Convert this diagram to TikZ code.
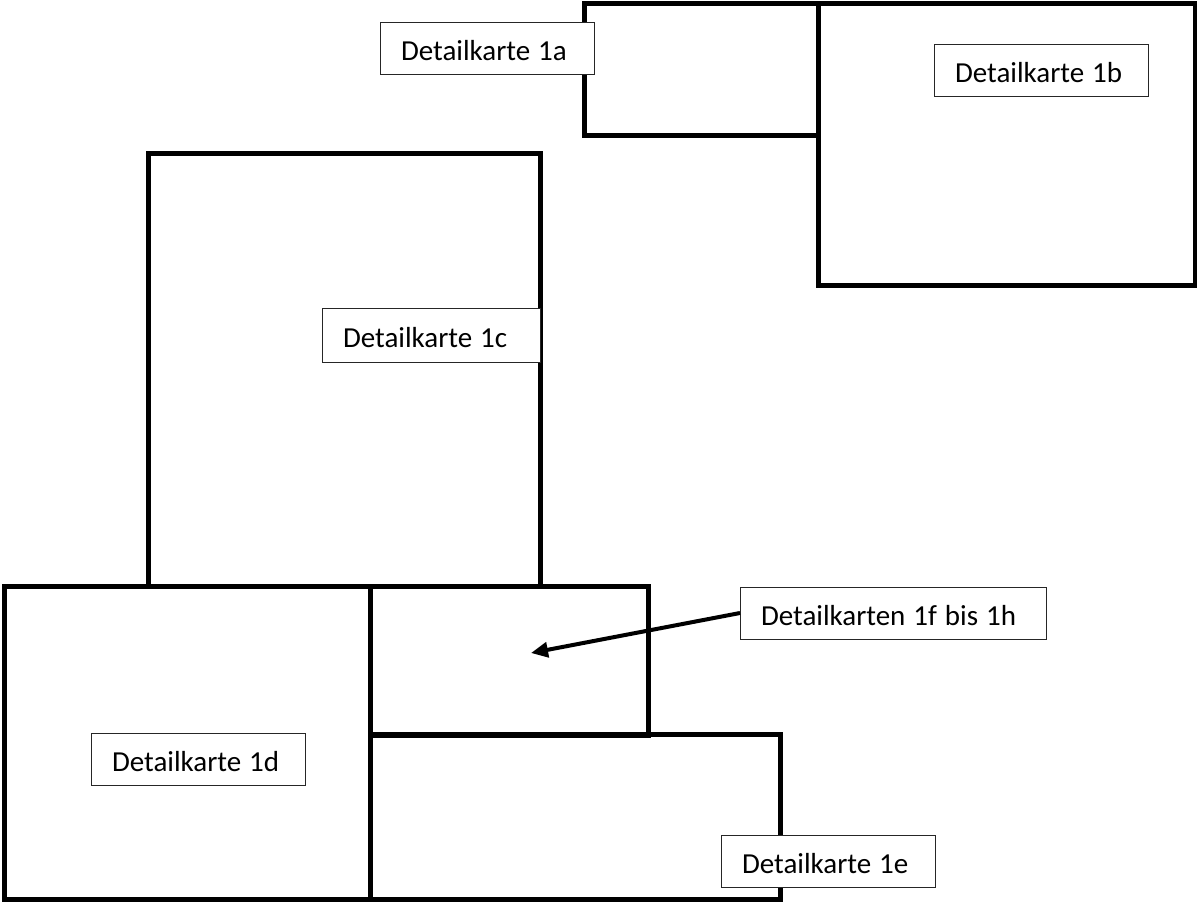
\documentclass[tikz,border=0pt]{standalone}
\usepackage{fontspec}
\setmainfont{Carlito}
\usetikzlibrary{arrows.meta}
\tikzset{
  x=1pt,y=-1pt,
  mapbox/.style={draw=black,line width=5pt,fill=none,anchor=north west,inner sep=0pt,outer sep=0pt,minimum width=#1},
  labelbox/.style={draw=black!85,line width=1pt,fill=white,anchor=north west,inner ysep=0pt,inner xsep=21pt,outer sep=0pt,minimum height=52.5pt,text width={#1-42pt},text height=24pt,text depth=0pt,font=\fontsize{29}{34}\selectfont,align=left,execute at begin node={\spaceskip=8pt\relax}},
  pointer/.style={line width=4pt,-{Triangle[length=17pt,width=15pt]}},
}
\begin{document}
\begin{tikzpicture}
\useasboundingbox (0,0) rectangle (1197,902);
\node[mapbox=234pt,minimum height=132pt] (m1a) at (584,3.5) {};
\node[mapbox=377pt,minimum height=282pt] (m1b) at (818,3.5) {};
\node[mapbox=392.5pt,minimum height=432.5pt] (m1c) at (148,153.5) {};
\node[mapbox=366pt,minimum height=313.5pt] (m1d) at (4,586) {};
\node[mapbox=410pt,minimum height=165.5pt] (m1e) at (370,734) {};
\node[mapbox=278pt,minimum height=149.5pt] (m1f) at (370,586) {};
\node[labelbox=214pt] (a) at (380,22) {Detailkarte 1a};
\node[labelbox=214pt] (b) at (934,44) {Detailkarte 1b};
\node[labelbox=218pt,minimum height=54pt] (c) at (322,308) {Detailkarte 1c};
\node[labelbox=214pt] (d) at (91,733) {Detailkarte 1d};
\node[labelbox=214pt] (e) at (721,835) {Detailkarte 1e};
\node[labelbox=306pt] (f) at (740,587) {Detailkarten 1f bis 1h};
\coordinate (tip) at (531,653);
\draw[pointer] (f.west |- 0,613) -- (tip);
\end{tikzpicture}
\end{document}
